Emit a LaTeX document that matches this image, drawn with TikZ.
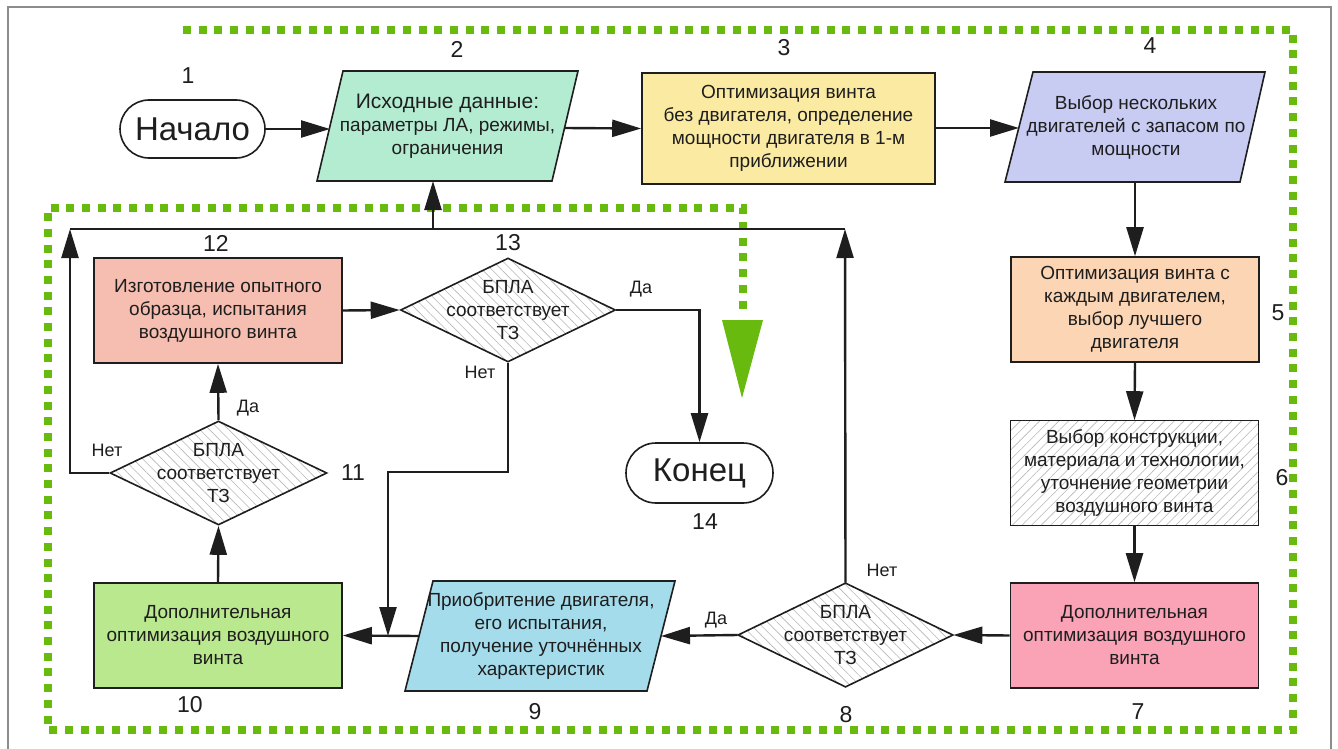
\documentclass[tikz,border=0pt]{standalone}
\usepackage{fontspec}
\setmainfont{Liberation Sans}
\usetikzlibrary{shapes.geometric,shapes.misc,arrows.meta,patterns.meta}
\definecolor{dgreen}{RGB}{104,186,14}
\definecolor{cmint}{RGB}{180,236,210}
\definecolor{cyell}{RGB}{250,234,162}
\definecolor{clav}{RGB}{200,204,242}
\definecolor{cpeach}{RGB}{252,214,180}
\definecolor{cpink}{RGB}{250,162,182}
\definecolor{cblue}{RGB}{164,220,236}
\definecolor{clgreen}{RGB}{186,232,142}
\definecolor{csalmon}{RGB}{246,190,176}
\definecolor{ink}{RGB}{30,30,30}
\newcommand\myBody{\fontsize{9.5}{11.5}\selectfont}
\newcommand\myNum{\fontsize{11.5}{13}\selectfont}
\newcommand\myBig{\fontsize{16.5}{19}\selectfont}
\newcommand\myLab{\fontsize{9}{11}\selectfont}
\begin{document}
\begin{tikzpicture}[x=0.5pt,y=-0.5pt,
  box/.style={draw=ink, line width=0.8pt, minimum width=124pt, minimum height=52.5pt, align=center, inner sep=0pt, font=\myBody, text=ink},
  term/.style={draw=ink, line width=0.8pt, rounded rectangle, minimum width=72.5pt, minimum height=29pt, inner sep=0pt, font=\myBig, text=ink},
  dia/.style={draw=ink, line width=0.8pt, diamond, inner sep=0pt, minimum width=107.5pt, minimum height=52pt,
     preaction={fill=white}, pattern={Lines[angle=-45,distance=3.4pt,line width=0.3pt]}, pattern color=black!28},
  ptext/.style={align=center, inner sep=0pt, font=\myBody, text=ink},
  para/.style={draw=ink, line width=0.8pt},
  num/.style={font=\myNum, text=ink, inner sep=0pt},
  lab/.style={font=\myLab, text=ink, inner sep=0pt},
  conn/.style={line width=1.2pt, draw=ink},
  arr/.style={conn, -{Triangle[length=14.5pt,width=8.5pt]}},
  gdots/.style={draw=dgreen, line width=4pt, dash pattern=on 4pt off 3.85pt}
]
\useasboundingbox (0,0) rectangle (1338,749);
\fill[white] (0,0) rectangle (1338,749);
\draw[black!45, line width=0.6pt] (8,749) -- (8,7) -- (1331,7) -- (1331,749);

% green dotted boundary
\draw[gdots] (183,30) -- (1293,30) -- (1293,730) -- (48,730) -- (48,208) -- (743,208) -- (743,316);
\fill[dgreen] (722,320) -- (763,320) -- (742,398) -- cycle;

% parallelogram shapes
\path[para, fill=cmint] (343,71) -- (578,71) -- (552,181) -- (317,181) -- cycle;
\path[para, fill=clav] (1033,72) -- (1265,72) -- (1240,182) -- (1005,182) -- cycle;
\path[para, fill=cblue] (433,581) -- (675,581) -- (647,691) -- (405,691) -- cycle;

% nodes
\node[term] (n1) at (192.5,129) {Начало};
\node[ptext] (n2) at (447.5,126) {{\fontsize{10.5}{12.5}\selectfont Исходные данные:}\\параметры ЛА, режимы,\\ограничения};
\node[box, fill=cyell, minimum width=146.5pt, minimum height=55.5pt] (n3) at (788.5,128.5) {Оптимизация винта\\без двигателя, определение\\мощности двигателя в 1-м\\приближении};
\node[ptext] (n4) at (1136,127) {Выбор нескольких\\двигателей с запасом по\\мощности};
\node[box, fill=cpeach] (n5) at (1135,309.5) {Оптимизация винта с\\каждым двигателем,\\выбор лучшего\\двигателя};
\node[box, preaction={fill=white}, pattern={Lines[angle=45,distance=3.4pt,line width=0.3pt]}, pattern color=black!28] (n6) at (1134.5,473) {};
\node[ptext] (t6) at (n6) {Выбор конструкции,\\материала и технологии,\\уточнение геометрии\\воздушного винта};
\node[box, fill=cpink] (n7) at (1134.5,635.5) {Дополнительная\\оптимизация воздушного\\винта};
\node[dia] (d8) at (845.5,635) {};
\node[ptext] (t8) at (d8) {БПЛА\\соответствует\\ТЗ};
\node[ptext] (n9) at (541,636) {Приобритение двигателя,\\его испытания,\\получение уточнённых\\характеристик};
\node[box, fill=clgreen] (n10) at (218,635.5) {Дополнительная\\оптимизация воздушного\\винта};
\node[dia, minimum width=108.5pt] (d11) at (218.5,473) {};
\node[ptext] (t11) at (d11) {БПЛА\\соответствует\\ТЗ};
\node[box, fill=csalmon] (n12) at (218,310.5) {Изготовление опытного\\образца, испытания\\воздушного винта};
\node[dia] (d13) at (508,310) {};
\node[ptext] (t13) at (d13) {БПЛА\\соответствует\\ТЗ};
\node[term, minimum width=73.5pt, minimum height=30pt] (n14) at (699.5,473) {Конец};

% number labels
\node[num] (l1) at (188,76) {1};
\node[num] (l2) at (457,49) {2};
\node[num] (l3) at (784,48) {3};
\node[num] (l4) at (1150,46) {4};
\node[num] (l5) at (1278,313) {5};
\node[num] (l6) at (1282,478) {6};
\node[num] (l7) at (1138,712) {7};
\node[num] (l8) at (846,715) {8};
\node[num] (l9) at (535,712) {9};
\node[num] (l10) at (190,705) {10};
\node[num] (l11) at (353,473) {11};
\node[num] (l12) at (216,243) {12};
\node[num] (l13) at (508,243) {13};
\node[num] (l14) at (705,522) {14};

% connector labels
\node[lab] (y13) at (641,289) {Да};
\node[lab] (x13) at (480,372) {Нет};
\node[lab] (y11) at (248,408) {Да};
\node[lab] (x11) at (107,450) {Нет};
\node[lab] (x8) at (882,570) {Нет};
\node[lab] (y8) at (716,620) {Да};

% helper coordinates
\coordinate (n2w) at (330,129);
\coordinate (n2e) at (565,128);
\coordinate (n2s) at (433,181);
\coordinate (n4w) at (1019,128);
\coordinate (n4s) at (1135,182);
\coordinate (n9w) at (419,636);
\coordinate (n9e) at (661,636);
\coordinate (busR) at (845,229);
\coordinate (busM) at (433,229);
\coordinate (busL) at (70,229);
\coordinate (j13) at (388,472);
\coordinate (j9) at (388,636);

% connectors
\draw[arr] (n1.east) -- (n2w);
\draw[arr] (n2e) -- (n3.west);
\draw[arr] (n3.east |- n2e) -- (n4w);
\draw[arr] (n4s) -- (n5.north);
\draw[arr] (n5.south) -- (n6.north);
\draw[arr] (n6.south) -- (n7.north);
\draw[arr] (n7.west) -- (d8.east);
\draw[arr] (d8.west) -- (n9e);
\draw[arr] (d8.north) -- (busR);
\draw[conn] (busR) -- (busL);
\draw[arr] (busM) -- (n2s);
\draw[arr] (n9w) -- (n10.east);
\draw[arr] (d13.south) |- (j13) -- (j9);
\draw[arr] (n10.north) -- (d11.south);
\draw[arr] (d11.north) -- (n12.south);
\draw[arr] (d11.west) -| (busL);
\draw[arr] (n12.east) -- (d13.west);
\draw[arr] (d13.east) -| (n14.north);
\end{tikzpicture}
\end{document}
